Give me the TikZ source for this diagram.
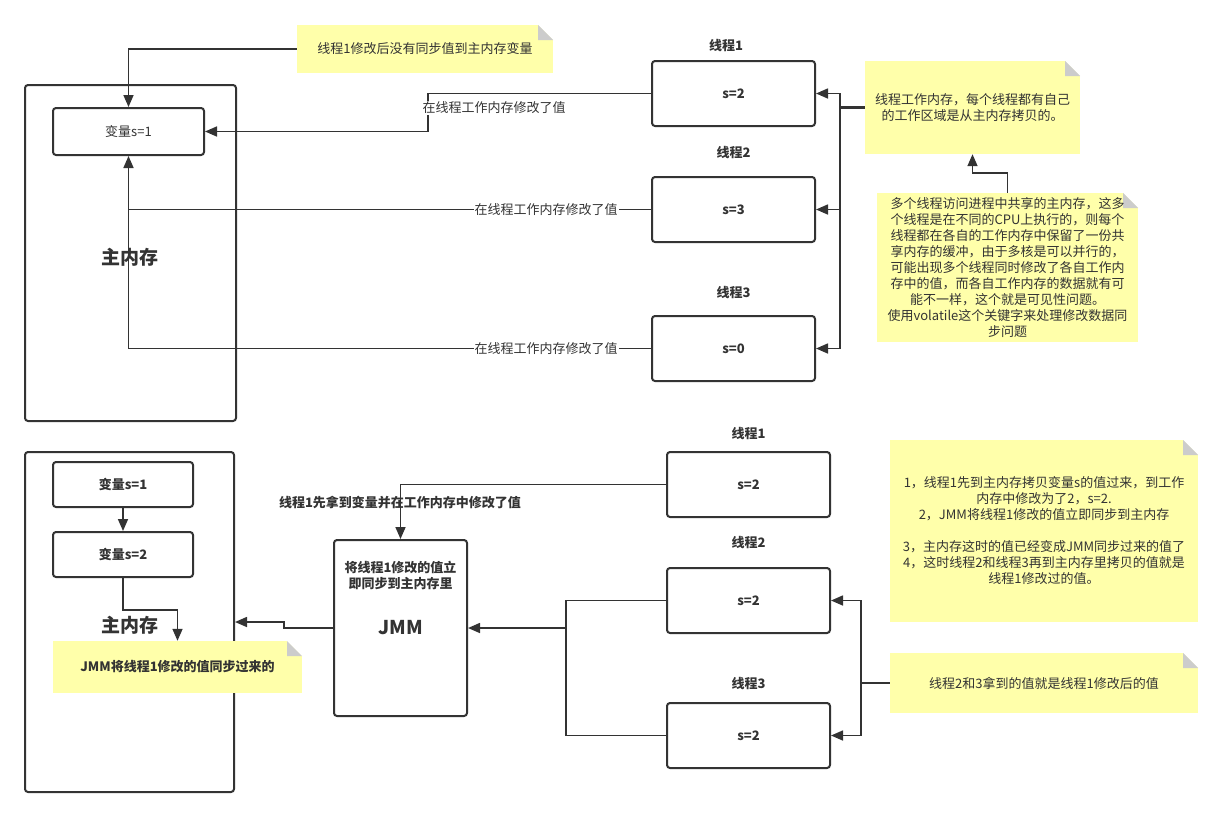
\documentclass[tikz,border=0pt]{standalone}
\usepackage{fontspec}
\setmainfont{Noto Sans CJK SC}
\usetikzlibrary{arrows.meta}

\definecolor{linec}{HTML}{333333}
\definecolor{notey}{HTML}{FFFFAA}
\definecolor{foldc}{HTML}{CCCCCC}
\newcommand{\fsmall}{\fontsize{13}{16}\selectfont}
\newcommand{\fbig}{\fontsize{19}{22}\selectfont\bfseries}

\begin{document}
\begin{tikzpicture}[
            x = 1pt, y = -1pt, % one unit per pixel, y downwards
            > = {Triangle[length=12pt, width=10pt]}, % arrow head style
            every node/.style = {font=\fsmall, text=linec},
            box/.style = {draw=linec, line width=2pt, rounded corners=3pt, fill=white, inner sep=0pt},
            conn/.style = {draw=linec, line width=1.6pt},
            tlabel/.style = {font=\fsmall\bfseries},
            note/.style = {fill=notey, inner sep=0pt, align=center,
                path picture={
                    \fill[white] ([xshift=-15pt]path picture bounding box.north east)
                        -- (path picture bounding box.north east)
                        -- ([yshift=-15pt]path picture bounding box.north east) -- cycle;
                    \fill[foldc] ([xshift=-15pt]path picture bounding box.north east)
                        -- ([xshift=-15pt, yshift=-15pt]path picture bounding box.north east)
                        -- ([yshift=-15pt]path picture bounding box.north east) -- cycle;
                }}
        ]
        \useasboundingbox (0,0) rectangle (1222,817);

        % ---- upper picture: no synchronisation ----
        \node[box, minimum width=211pt, minimum height=336pt] (memA) at (130.5,253) {};
        \node[font=\fbig] (memAlbl) at (130,257) {主内存};
        \node[box, minimum width=151pt, minimum height=47pt] (varA) at (128.5,131.5) {变量s=1};

        \node[box, tlabel, minimum width=163pt, minimum height=65pt] (t1) at (733.5,93.5) {s=2};
        \node[box, tlabel, minimum width=163pt, minimum height=65pt] (t2) at (733.5,209.5) {s=3};
        \node[box, tlabel, minimum width=163pt, minimum height=65pt] (t3) at (733.5,348.5) {s=0};
        \node[tlabel] (t1lbl) at (726,46) {线程1};
        \node[tlabel] (t2lbl) at (733.5,153) {线程2};
        \node[tlabel] (t3lbl) at (733.5,293) {线程3};

        \node[note, minimum width=256pt, minimum height=48pt] (n1) at (425,49) {线程1修改后没有同步值到主内存变量};
        \node[note, minimum width=215pt, minimum height=93pt] (n2) at (972.5,107.5)
            {线程工作内存，每个线程都有自己\\的工作区域是从主内存拷贝的。};
        \node[note, minimum width=261pt, minimum height=149pt] (n3) at (1007.5,267.5)
            {多个线程访问进程中共享的主内存，这多\\个线程是在不同的CPU上执行的，则每个\\线程都在各自的工作内存中保留了一份共\\享内存的缓冲，由于多核是可以并行的，\\可能出现多个线程同时修改了各自工作内\\存中的值，而各自工作内存的数据就有可\\能不一样，这个就是可见性问题。\\使用volatile这个关键字来处理修改数据同\\步问题};

        \draw[conn, ->] (n1.west) -| (varA.north);
        \draw[conn, ->] (t1.west) -| (428,112) |- (varA.east);
        \draw[conn, ->] (t2.west) -| (varA.south);
        \draw[conn] (t3.west) -| (varA.south |- t2.west);
        \node[fill=white, inner sep=1pt] (e1) at (494,108) {在线程工作内存修改了值};
        \node[fill=white, inner sep=1pt] (e2) at (546,209.5) {在线程工作内存修改了值};
        \node[fill=white, inner sep=1pt] (e3) at (546,348.5) {在线程工作内存修改了值};

        \coordinate (busA) at (840,107.5);
        \draw[draw=linec, line width=3pt] (n2.west) -- (busA);
        \draw[conn, ->] (busA) |- (t1.east);
        \draw[conn, ->] (busA) |- (t2.east);
        \draw[conn, ->] (busA) |- (t3.east);
        \draw[conn, ->] (n3.north) -- ++(0,-20) -| (n2.south);

        % ---- lower picture: with JMM ----
        \node[box, minimum width=209pt, minimum height=340pt] (memB) at (129.5,622) {};
        \node[font=\fbig] (memBlbl) at (129.5,625) {主内存};
        \node[box, tlabel, minimum width=140pt, minimum height=45pt] (varB1) at (123,484.5) {变量s=1};
        \node[box, tlabel, minimum width=140pt, minimum height=45pt] (varB2) at (123,554.5) {变量s=2};
        \node[note, font=\fsmall\bfseries, minimum width=249pt, minimum height=52pt] (n4) at (177.5,667)
            {JMM将线程1修改的值同步过来的};

        \node[box, minimum width=133pt, minimum height=176pt, font=\fontsize{19}{22}\selectfont\bfseries] (jmm) at (400.5,628) {JMM};
        \node[tlabel, align=center] (jmmtxt) at (400.5,575) {将线程1修改的值立\\即同步到主内存里};

        \node[box, tlabel, minimum width=163pt, minimum height=65pt] (tb1) at (748.5,484.5) {s=2};
        \node[box, tlabel, minimum width=163pt, minimum height=65pt] (tb2) at (748.5,600.5) {s=2};
        \node[box, tlabel, minimum width=163pt, minimum height=65pt] (tb3) at (748.5,735.5) {s=2};
        \node[tlabel] (tb1lbl) at (748.5,434) {线程1};
        \node[tlabel] (tb2lbl) at (748.5,543) {线程2};
        \node[tlabel] (tb3lbl) at (748.5,684) {线程3};

        \node[note, minimum width=308pt, minimum height=182pt] (n5) at (1044,531)
            {1，线程1先到主内存拷贝变量s的值过来，到工作\\内存中修改为了2，s=2.\\2，JMM将线程1修改的值立即同步到主内存\hspace*{26pt}\\\strut\\3，主内存这时的值已经变成JMM同步过来的值了\\4，这时线程2和线程3再到主内存里拷贝的值就是\\线程1修改过的值。};
        \node[note, minimum width=308pt, minimum height=60pt] (n6) at (1044,683)
            {线程2和3拿到的值就是线程1修改后的值};

        \draw[conn, ->] (varB1.south) -- (varB2.north);
        \draw[conn, ->] (varB2.south) -- ++(0,32) -| (n4.north);
        \draw[conn, ->] (jmm.west) -| (284,625) |- (memB.east);
        \draw[conn, ->] (tb1.west) -| (jmm.north);
        \node[tlabel] (e4) at (400,503) {线程1先拿到变量并在工作内存中修改了值};

        \coordinate (busB) at (566,628);
        \draw[conn] (tb2.west) -| (busB) |- (tb3.west);
        \draw[conn, ->] (busB) -- (jmm.east);

        \coordinate (busC) at (861,683);
        \draw[conn] (n6.west) -- (busC);
        \draw[conn, ->] (busC) |- (tb2.east);
        \draw[conn, ->] (busC) |- (tb3.east);
    \end{tikzpicture}
\end{document}
